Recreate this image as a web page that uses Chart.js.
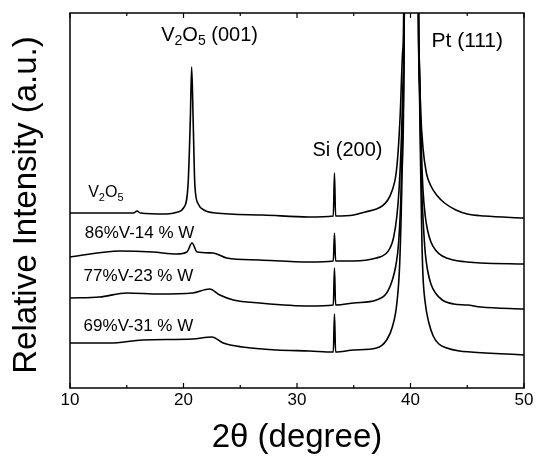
<!DOCTYPE html>
<html>
<head>
<meta charset="utf-8">
<script src="https://cdn.jsdelivr.net/npm/chart.js@4"></script>
<style>
  html, body { margin: 0; padding: 0; background: #fff; }
  canvas { display: block; }
</style>
</head>
<body>
<canvas id="xrdChart" width="536" height="458"></canvas>
<script>
// XRD patterns (2theta in degrees, intensity in a.u., stacked)
const v2o5X = [10, 13.0, 15.6, 15.9, 16.2, 18.5, 19.5, 20.0, 20.4, 20.6, 20.72, 20.85, 21.0, 21.3, 21.8, 22.8, 27.0, 31.0, 33.2, 33.3, 33.4, 35.0, 36.0, 37.0, 37.5, 38.0, 38.4, 38.7, 38.9, 39.1, 39.3, 39.4, 40.05, 40.7, 40.78, 40.9, 41.1, 41.4, 41.8, 42.3, 43.0, 44.0, 45.0, 46.5, 50];
const v2o5Y = [175, 175, 175, 177, 175, 174, 176, 180, 203, 268, 321, 268, 203, 184, 178, 175, 173, 171, 172, 215, 172, 173, 176, 179, 182, 188, 198, 212, 235, 275, 335, 375, 3000, 375, 320, 275, 240, 215, 202, 193, 185, 178, 174, 172, 170];

const w14X = [10, 14.4, 17.3, 19.4, 20.3, 20.75, 21.2, 22.6, 23.8, 26.7, 31.1, 33.2, 33.3, 33.4, 35.0, 37.0, 37.8, 38.2, 38.5, 38.8, 39.0, 39.2, 39.35, 39.45, 40.05, 40.72, 40.8, 40.9, 41.0, 41.1, 41.3, 41.5, 41.8, 42.2, 42.8, 43.8, 45.0, 46.2, 50];
const w14Y = [131, 137, 136, 134, 136, 145, 136, 135, 130, 128, 126, 127, 155, 127, 127, 130, 134, 140, 150, 172, 200, 250, 310, 375, 3000, 375, 320, 265, 225, 198, 172, 158, 146, 138, 132, 128, 126, 125, 124];

const w23X = [10, 12.6, 15.0, 17.9, 20.8, 22.3, 23.2, 24.4, 26.7, 31.1, 33.2, 33.3, 33.4, 35.0, 37.0, 37.9, 38.4, 38.7, 38.95, 39.15, 39.3, 39.45, 40.05, 40.7, 40.8, 40.9, 41.0, 41.15, 41.3, 41.5, 41.8, 42.2, 42.8, 43.8, 45.0, 46.2, 50];
const w23Y = [90, 91, 95, 94, 95, 99, 93, 88, 85, 82, 83, 120, 83, 85, 88, 95, 108, 122, 145, 190, 260, 375, 3000, 375, 300, 240, 195, 160, 135, 118, 104, 95, 88, 84, 83, 81, 79];

const w31X = [10, 13.5, 16.4, 20.8, 22.5, 23.5, 25.2, 28.2, 31.1, 33.2, 33.3, 33.4, 35.0, 37.0, 37.9, 38.4, 38.8, 39.05, 39.25, 39.45, 40.05, 40.7, 40.8, 40.9, 41.0, 41.1, 41.3, 41.6, 42.0, 42.5, 43.2, 44.3, 45.3, 50];
const w31Y = [45, 45, 48, 49, 51, 45, 41, 38, 37, 36, 74, 36, 38, 40, 48, 61, 85, 125, 210, 375, 3000, 375, 290, 215, 150, 112, 85, 66, 52, 44, 40, 37, 36, 33];

const xTicks = [10, 20, 30, 40, 50];
const xMinorTicks = [15, 25, 35, 45];

const FONT = "'Liberation Sans', Arial, sans-serif";

function series(xs, ys) {
    return xs.map((x, i) => ({ x: x, y: ys[i] }));
}

// text with subscripts: parts = [[text, isSub], ...]
function drawRich(ctx, x, y, parts, size, align) {
    const subSize = Math.round(size * 0.68);
    let w = 0;
    parts.forEach(p => {
        ctx.font = (p[1] ? subSize : size) + "px " + FONT;
        w += ctx.measureText(p[0]).width;
    });
    let cx = align === "center" ? x - w / 2 : x;
    ctx.textAlign = "left";
    ctx.textBaseline = "middle";
    parts.forEach(p => {
        ctx.font = (p[1] ? subSize : size) + "px " + FONT;
        ctx.fillText(p[0], cx, p[1] ? y + size * 0.3 : y);
        cx += ctx.measureText(p[0]).width;
    });
}

const labels = [
    { x: 22.3, y: 353, size: 20, align: "center", parts: [["V", 0], ["2", 1], ["O", 0], ["5", 1], [" (001)", 0]] },
    { x: 34.45, y: 238, size: 20, align: "center", parts: [["Si (200)", 0]] },
    { x: 45.0, y: 347, size: 21, align: "center", parts: [["Pt (111)", 0]] },
    { x: 11.6, y: 195, size: 16, align: "left", parts: [["V", 0], ["2", 1], ["O", 0], ["5", 1]] },
    { x: 11.3, y: 155, size: 17, align: "left", parts: [["86%V-14 % W", 0]] },
    { x: 11.2, y: 112, size: 17, align: "left", parts: [["77%V-23 % W", 0]] },
    { x: 11.2, y: 62, size: 17, align: "left", parts: [["69%V-31 % W", 0]] }
];

const framePlugin = {
    id: "frame",
    afterDatasetsDraw(chart) {
        const ctx = chart.ctx;
        const a = chart.chartArea;
        const xs = chart.scales.x;
        const ys = chart.scales.y;
        ctx.save();
        ctx.strokeStyle = "#000";
        ctx.lineWidth = 1.5;
        ctx.strokeRect(a.left, a.top, a.right - a.left, a.bottom - a.top);
        ctx.lineWidth = 1.2;
        ctx.beginPath();
        xTicks.forEach(v => {
            const px = xs.getPixelForValue(v);
            ctx.moveTo(px, a.bottom); ctx.lineTo(px, a.bottom - 5);
            ctx.moveTo(px, a.top); ctx.lineTo(px, a.top + 5);
        });
        xMinorTicks.forEach(v => {
            const px = xs.getPixelForValue(v);
            ctx.moveTo(px, a.bottom); ctx.lineTo(px, a.bottom - 3);
            ctx.moveTo(px, a.top); ctx.lineTo(px, a.top + 3);
        });
        ctx.stroke();
        ctx.fillStyle = "#000";
        labels.forEach(l => {
            drawRich(ctx, xs.getPixelForValue(l.x), ys.getPixelForValue(l.y), l.parts, l.size, l.align);
        });
        // y axis title
        ctx.save();
        ctx.translate(27, 205);
        ctx.rotate(-Math.PI / 2);
        ctx.font = "33px " + FONT;
        ctx.textAlign = "center";
        ctx.textBaseline = "middle";
        ctx.fillText("Relative Intensity (a.u.)", 0, 0);
        ctx.restore();
        ctx.restore();
    }
};

const lineStyle = {
    borderColor: "#000",
    borderWidth: 1.6,
    pointRadius: 0,
    fill: false,
    cubicInterpolationMode: "monotone"
};

new Chart(document.getElementById("xrdChart"), {
    type: "line",
    data: {
        datasets: [
            Object.assign({ label: "V2O5", data: series(v2o5X, v2o5Y) }, lineStyle),
            Object.assign({ label: "86%V-14 % W", data: series(w14X, w14Y) }, lineStyle),
            Object.assign({ label: "77%V-23 % W", data: series(w23X, w23Y) }, lineStyle),
            Object.assign({ label: "69%V-31 % W", data: series(w31X, w31Y) }, lineStyle)
        ]
    },
    options: {
        responsive: false,
        animation: false,
        layout: { padding: { top: 13, right: 12, left: 0, bottom: 0 } },
        plugins: {
            legend: { display: false },
            tooltip: { enabled: false }
        },
        scales: {
            x: {
                type: "linear",
                min: 10,
                max: 50,
                afterBuildTicks: s => { s.ticks = xTicks.map(v => ({ value: v })); },
                ticks: { color: "#000", font: { family: FONT, size: 17 }, padding: 2, maxRotation: 0 },
                grid: { display: false, drawTicks: false, tickLength: 0 },
                border: { display: false },
                title: { display: true, text: "2θ (degree)", color: "#000", font: { family: FONT, size: 33 }, padding: { top: 0, bottom: 0 } },
                afterFit: s => { s.height = 70; }
            },
            y: {
                type: "linear",
                min: 0,
                max: 375,
                ticks: { display: false },
                grid: { display: false, drawTicks: false, tickLength: 0 },
                border: { display: false },
                title: { display: false },
                afterFit: s => { s.width = 70; }
            }
        }
    },
    plugins: [framePlugin]
});
</script>
</body>
</html>
